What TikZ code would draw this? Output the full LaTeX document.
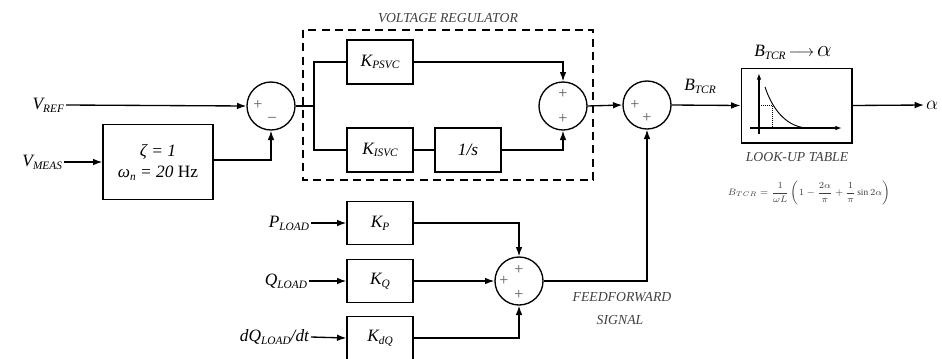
\documentclass[tikz,border=0pt]{standalone}
\usepackage{fontspec}
\setmainfont{Liberation Serif}
\usetikzlibrary{arrows.meta,calc}
\newcommand{\lowix}[1]{\raisebox{-0.35ex}{\fontsize{8.5}{10}\selectfont #1}}

\begin{document}
\begin{tikzpicture}[x=0.75pt, y=-0.75pt, line width=1pt,
    >={Latex[length=7pt,width=5pt]},
    blk/.style={rectangle, draw, minimum width=49.5pt, minimum height=33pt, font=\fontsize{13}{15}\selectfont\itshape, inner sep=1pt},
    sumj/.style={circle, draw, minimum size=36pt, inner sep=0pt},
    sgn/.style={font=\fontsize{12}{13}\selectfont, inner sep=0pt, text=black!65},
    lbl/.style={font=\fontsize{13}{15}\selectfont\itshape, inner sep=1pt},
    captxt/.style={font=\fontsize{10.3}{12}\selectfont\itshape, inner sep=1pt, text=black!75}]

    \useasboundingbox (0,0) rectangle (942,358);

    % Inputs and filter
    \node[lbl, anchor=east] (vref) at (66,105) {V\lowix{REF}};
    \node[lbl, anchor=east] (vmeas) at (64,162) {V\lowix{MEAS}};
    \node[blk, minimum width=82.5pt, minimum height=56pt, align=center, font=\fontsize{13}{16}\selectfont] (filt) at (158,162)
        {\itshape ζ = 1\\\itshape ω\lowix{n} = 20 \upshape Hz};

    % Error junction
    \node[sumj] (s1) at (271,106) {};
    \node[sgn] at ($(s1)+(-13,-1)$) {+};
    \node[sgn] at ($(s1)+(1,13)$) {--};

    % Voltage regulator
    \coordinate (br) at (314,106);
    \node[blk] (kpsvc) at (380,62) {K\lowix{PSVC}};
    \node[blk] (kisvc) at (380,150) {K\lowix{ISVC}};
    \node[blk] (integ) at (468,150) {1/s};
    \node[sumj] (s2) at (563,106) {};
    \node[sgn] at ($(s2)+(0,-12)$) {+};
    \node[sgn] at ($(s2)+(0,13)$) {+};
    \draw[dash pattern=on 6pt off 4pt] (303,30) rectangle (593,180);
    \node[captxt] (vrlab) at (448,18) {VOLTAGE REGULATOR};

    % Summing with feedforward
    \node[sumj] (s3) at (647,105) {};
    \node[sgn] at ($(s3)+(-12,0)$) {+};
    \node[sgn] at ($(s3)+(0,13)$) {+};

    % Look-up table
    \node[rectangle, draw, minimum width=83pt, minimum height=56pt] (lut) at (796.5,105.5) {};
    \draw[-{Latex[length=5pt,width=3.5pt]}] (759,134) -- (759,73);
    \draw[-{Latex[length=5pt,width=3.5pt]}] (750,128) -- (842,128);
    \draw[line width=0.7pt] (765,87) .. controls (772,108) and (785,126) .. (806,128);
    \draw[densely dotted, line width=0.5pt] (759,105) -- (772,105) -- (772,128);
    \node[lbl] (luthead) at (793,52) {B\lowix{TCR}\,$\longrightarrow$\,{\fontsize{16}{17}\selectfont $\alpha$}};
    \node[captxt] (lutlab) at (797,157) {LOOK-UP TABLE};
    \node[font=\fontsize{7}{8}\selectfont, text=black!75] (formula) at (809,193)
        {$\displaystyle B_{TCR}=\frac{1}{\omega L}\left(1-\frac{2\alpha}{\pi}+\frac{1}{\pi}\sin 2\alpha\right)$};
    \node[lbl, anchor=west, font=\fontsize{15}{16}\selectfont] (alpha) at (924,105) {$\alpha$};
    \node[lbl] (btcr) at (700,86) {B\lowix{TCR}};

    % Feedforward gains
    \node[lbl, anchor=east] (pload) at (311,223) {P\lowix{LOAD}};
    \node[lbl, anchor=east] (qload) at (309,281) {Q\lowix{LOAD}};
    \node[lbl, anchor=east] (dqload) at (311,337) {dQ\lowix{LOAD}/dt};
    \node[blk, minimum height=32pt] (kp) at (380,223) {K\lowix{P}};
    \node[blk, minimum height=32pt] (kq) at (380,281) {K\lowix{Q}};
    \node[blk, minimum height=32pt] (kdq) at (380,338) {K\lowix{dQ}};
    \node[sumj] (s4) at (519,281) {};
    \node[sgn] at ($(s4)+(0,-11)$) {+};
    \node[sgn] at ($(s4)+(-15,0)$) {+};
    \node[sgn] at ($(s4)+(0,14)$) {+};
    \node[captxt] (fflab) at (622,297) {FEEDFORWARD};
    \node[captxt] (sglab) at (620,320) {SIGNAL};

    % Arrows
    \draw[->] (vref.east) -- (s1.west);
    \draw[->] (vmeas.east) -- (filt.west);
    \draw[->] (filt.east |- 0,160) -- (271,160) -- (s1.south);
    \draw (s1.east) -- (br);
    \draw (br) -- (314,62) -- (kpsvc.west);
    \draw (br) -- (314,150) -- (kisvc.west);
    \draw (kisvc) -- (integ);
    \draw[->] (kpsvc.east) -- (563,62) -- (s2.north);
    \draw[->] (integ.east) -- (563,150) -- (s2.south);
    \draw[->] (s2.east) -- (s3.west);
    \draw[->] (s3.east) -- (lut.west);
    \draw[->] (lut.east) -- (alpha.west);
    \draw[->] (pload.east) -- (kp.west);
    \draw[->] (qload.east) -- (kq.west);
    \draw[->] (dqload.east) -- (kdq.west);
    \draw[->] (kp.east) -- (519,223) -- (s4.north);
    \draw[->] (kq.east) -- (s4.west);
    \draw[->] (kdq.east) -- (519,338) -- (s4.south);
    \draw[->] (s4.east) -- (647,281) -- (s3.south);
\end{tikzpicture}
\end{document}
